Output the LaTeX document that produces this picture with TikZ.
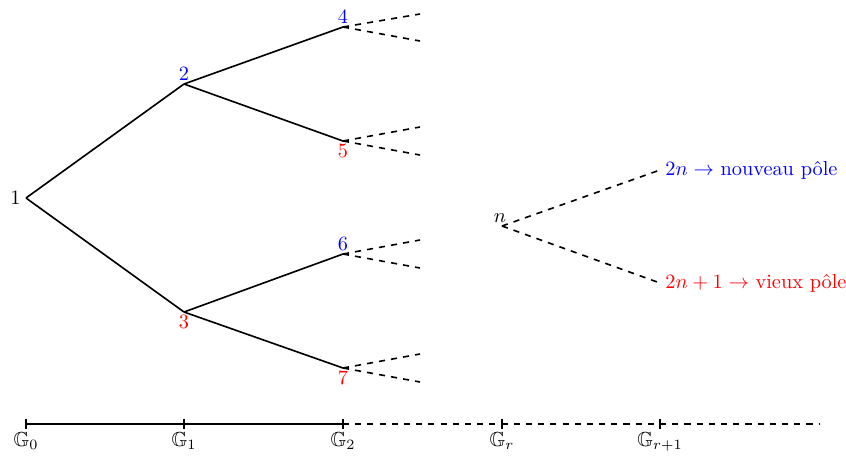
\documentclass[tikz,border=0pt]{standalone}
\usepackage{amssymb}
\usepackage{fontspec}
\begin{document}
\begin{tikzpicture}[x=0.492pt,y=-0.492pt,
  pt/.style={inner sep=0pt,minimum size=0pt,outer sep=0pt},
  edge/.style={thick},
  dedge/.style={thick,dashed},
  lab/.style={inner sep=1.5pt},
  glab/.style={inner sep=4pt},
  tick/.style={thick}]
\useasboundingbox (0,0) rectangle (846,456);
% tree nodes
\node[pt,label={[lab,inner sep=2.5pt]left:$1$}] (n1) at (26,198) {};
\node[pt,label={[lab,text=blue]above:$2$}] (n2) at (184,84) {};
\node[pt,label={[lab,text=red]below:$3$}] (n3) at (184,312) {};
\node[pt,label={[lab,text=blue]above:$4$}] (n4) at (343,27) {};
\node[pt,label={[lab,text=red]below:$5$}] (n5) at (343,141) {};
\node[pt,label={[lab,text=blue]above:$6$}] (n6) at (343,254) {};
\node[pt,label={[lab,text=red]below:$7$}] (n7) at (343,368) {};
\draw[edge] (n1) -- (n2);
\draw[edge] (n1) -- (n3);
\draw[edge] (n2) -- (n4);
\draw[edge] (n2) -- (n5);
\draw[edge] (n3) -- (n6);
\draw[edge] (n3) -- (n7);
% dashed continuations
\coordinate (e4a) at (420,14);  \coordinate (e4b) at (420,41);
\coordinate (e5a) at (420,127); \coordinate (e5b) at (420,155);
\coordinate (e6a) at (420,240); \coordinate (e6b) at (420,268);
\coordinate (e7a) at (420,354); \coordinate (e7b) at (420,382);
\draw[dedge] (n4) -- (e4a); \draw[dedge] (n4) -- (e4b);
\draw[dedge] (n5) -- (e5a); \draw[dedge] (n5) -- (e5b);
\draw[dedge] (n6) -- (e6a); \draw[dedge] (n6) -- (e6b);
\draw[dedge] (n7) -- (e7a); \draw[dedge] (n7) -- (e7b);
% generic node n
\node[pt,label={[lab,xshift=-1pt]above:$n$}] (nn) at (502,226) {};
\node[pt,label={[lab,inner sep=2.5pt,text=blue]right:$2n\rightarrow$ nouveau pôle}] (n2n) at (660,170) {};
\node[pt,label={[lab,inner sep=2.5pt,text=red]right:$2n+1\rightarrow$ vieux pôle}] (n2n1) at (660,283) {};
\draw[dedge] (nn) -- (n2n);
\draw[dedge] (nn) -- (n2n1);
% axis
\node[pt,label={[glab]below:$\mathbb{G}_0$}] (g0) at (26,424) {};
\node[pt,label={[glab]below:$\mathbb{G}_1$}] (g1) at (184,424) {};
\node[pt,label={[glab]below:$\mathbb{G}_2$}] (g2) at (343,424) {};
\node[pt,label={[glab]below:$\mathbb{G}_r$}] (gr) at (502,424) {};
\node[pt,label={[glab]below:$\mathbb{G}_{r+1}$}] (gr1) at (660,424) {};
\coordinate (gend) at (820,424);
\draw[edge] (g0) -- (g1) -- (g2);
\draw[dedge] (g2) -- (gend);
\foreach \g in {g0,g1,g2,gr,gr1}
  \draw[tick] ([yshift=2.6pt]\g.center) -- ([yshift=-2.6pt]\g.center);
\end{tikzpicture}
\end{document}
